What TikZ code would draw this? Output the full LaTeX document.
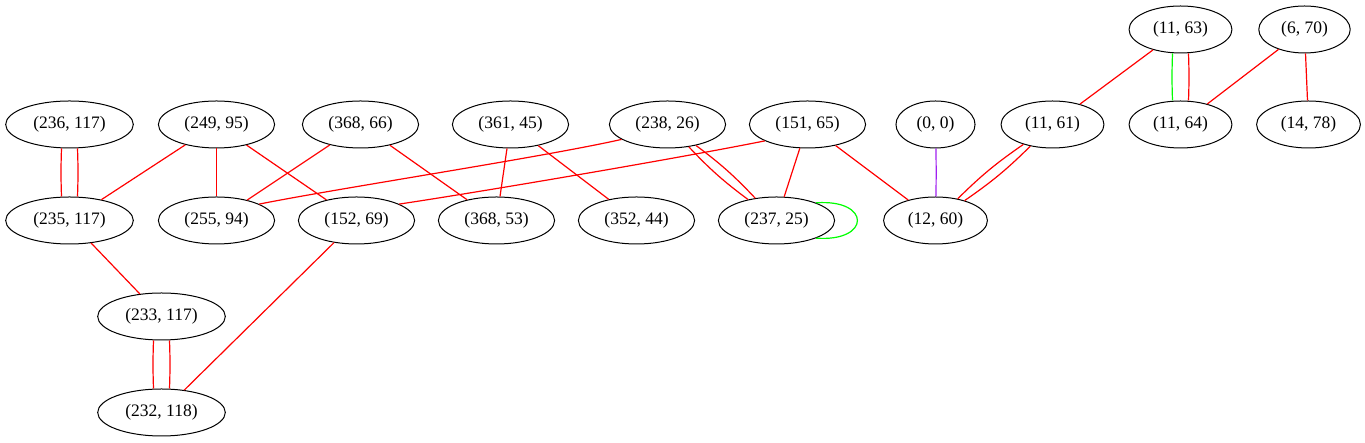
\documentclass[tikz,border=0pt]{standalone}
\usepackage{fontspec}
\setmainfont{Liberation Serif}
\usetikzlibrary{shapes.geometric}
\definecolor{gvpurple}{RGB}{160,32,240}
\tikzset{
  vertex/.style={ellipse, draw=black, line width=1pt, minimum height=47pt,
    inner xsep=9pt, inner ysep=2pt, font=\fontsize{17.5}{20}\selectfont},
  rl/.style={draw=red, line width=1.2pt},
  gl/.style={draw=green, line width=1.2pt},
  pl/.style={draw=gvpurple, line width=1.2pt}
}
\begin{document}
\begin{tikzpicture}[x=1pt,y=1pt]
\useasboundingbox (0,0) rectangle (1365,443);
\begin{scope}[shift={(0.5,0.5)}]
% row 1
\node[vertex] (n11_63) at (1180,413) {(11, 63)};
\node[vertex] (n6_70) at (1304,413) {(6, 70)};
% row 2
\node[vertex] (n236_117) at (69,318) {(236, 117)};
\node[vertex] (n249_95) at (216,318) {(249, 95)};
\node[vertex] (n368_66) at (360,318) {(368, 66)};
\node[vertex] (n361_45) at (510,318) {(361, 45)};
\node[vertex] (n238_26) at (667,318) {(238, 26)};
\node[vertex] (n151_65) at (807,318) {(151, 65)};
\node[vertex] (n0_0) at (935,318) {(0, 0)};
\node[vertex] (n11_61) at (1052,318) {(11, 61)};
\node[vertex] (n11_64) at (1180,318) {(11, 64)};
\node[vertex] (n14_78) at (1308,318) {(14, 78)};
% row 3
\node[vertex] (n235_117) at (69,222) {(235, 117)};
\node[vertex] (n255_94) at (216,222) {(255, 94)};
\node[vertex] (n152_69) at (356,222) {(152, 69)};
\node[vertex] (n368_53) at (496,222) {(368, 53)};
\node[vertex] (n352_44) at (636,222) {(352, 44)};
\node[vertex] (n237_25) at (776,222) {(237, 25)};
\node[vertex] (n12_60) at (935,222) {(12, 60)};
% rows 4,5
\node[vertex] (n233_117) at (161,126) {(233, 117)};
\node[vertex] (n232_118) at (161,30) {(232, 118)};

% edges
\draw[rl] ([xshift=-8pt]n236_117.south) to[bend right=2] ([xshift=-8pt]n235_117.north);
\draw[rl] ([xshift=8pt]n236_117.south) to[bend left=2] ([xshift=8pt]n235_117.north);
\draw[rl] (n249_95) -- (n235_117);
\draw[rl] (n249_95) -- (n255_94);
\draw[rl] (n249_95) -- (n152_69);
\draw[rl] (n368_66) -- (n255_94);
\draw[rl] (n368_66) -- (n368_53);
\draw[rl] (n361_45) -- (n368_53);
\draw[rl] (n361_45) -- (n352_44);
\draw[rl] (n238_26.198) .. controls +(-80,-18) and +(80,16) .. (n255_94.21);
\draw[rl] (n238_26) to[bend left=5] (n237_25);
\draw[rl] (n238_26) to[bend right=5] (n237_25);
\draw[rl] (n151_65.201) .. controls +(-90,-18) and +(80,12) .. (n152_69.21);
\draw[rl] (n151_65) -- (n237_25);
\draw[rl] (n151_65) -- (n12_60);
\draw[gl] (n237_25.24) .. controls +(55,4) and +(55,-4) .. (n237_25.-24);
\draw[pl] (n0_0) to[bend left=1] (n12_60);
\draw[rl] (n11_61) to[bend left=5] (n12_60);
\draw[rl] (n11_61) to[bend right=5] (n12_60);
\draw[rl] (n11_63) -- (n11_61);
\draw[gl] ([xshift=-8pt]n11_63.south) to[bend right=2] ([xshift=-8pt]n11_64.north);
\draw[rl] ([xshift=8pt]n11_63.south) to[bend left=2] ([xshift=8pt]n11_64.north);
\draw[rl] (n6_70) -- (n11_64);
\draw[rl] (n6_70) -- (n14_78);
\draw[rl] (n235_117) -- (n233_117);
\draw[rl] ([xshift=-8pt]n233_117.south) to[bend right=2] ([xshift=-8pt]n232_118.north);
\draw[rl] ([xshift=8pt]n233_117.south) to[bend left=2] ([xshift=8pt]n232_118.north);
\draw[rl] (n152_69) -- (n232_118);
\end{scope}
\end{tikzpicture}
\end{document}
